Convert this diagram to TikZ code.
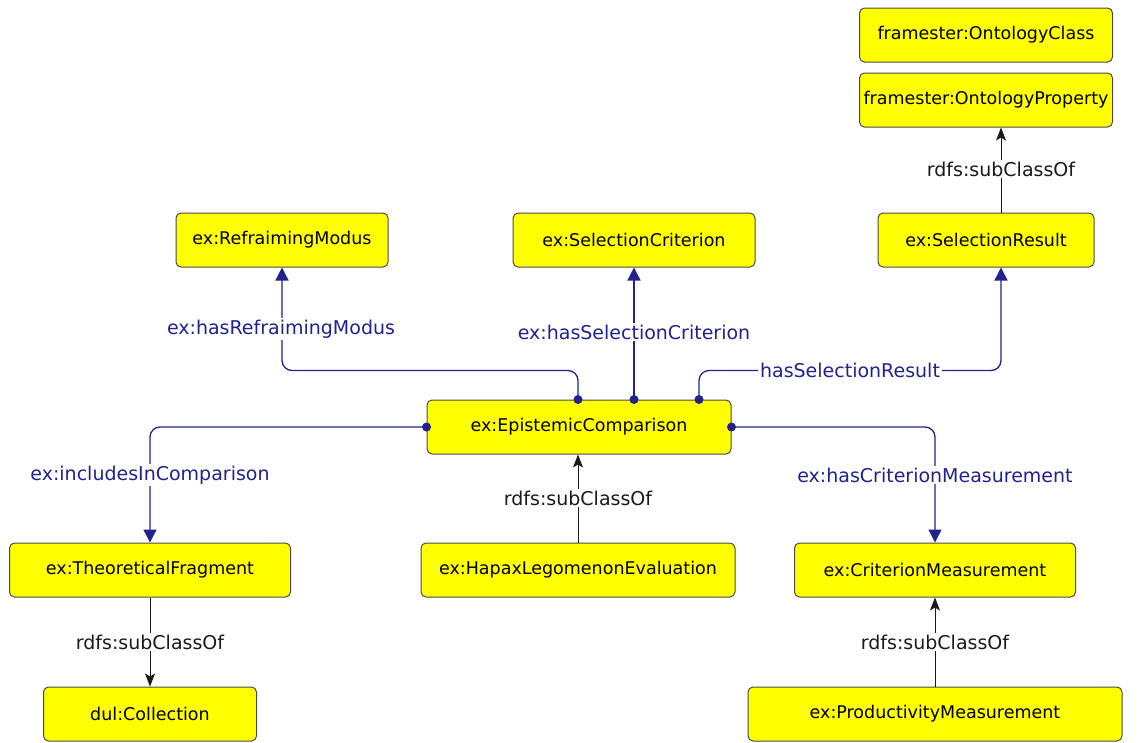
\documentclass[tikz,border=0pt]{standalone}
\usepackage{fontspec}
\setmainfont{DejaVu Sans}
\usetikzlibrary{arrows.meta}
\definecolor{nodeyellow}{HTML}{FFFF00}
\definecolor{edgeblue}{HTML}{22228E}
\definecolor{boxborder}{HTML}{4A4A4A}
\definecolor{labelblack}{HTML}{1A1A1A}

\begin{document}
\begin{tikzpicture}[x=1pt,y=-1pt,
  cls/.style={draw=boxborder, fill=nodeyellow, rounded corners=5pt, line width=1pt,
    minimum height=54pt, inner sep=0pt, text=black, font=\fontsize{17.5}{22}\selectfont},
  objprop/.style={draw=edgeblue, line width=1.3pt, rounded corners=10pt,
    -{Triangle[length=13pt,width=13pt]}},
  subcls/.style={draw=labelblack, line width=0.9pt, -{Stealth[length=13pt,width=10pt,inset=3pt]}},
  proplabel/.style={fill=white, text=edgeblue, inner sep=2pt, font=\fontsize{19}{22}\selectfont},
  sublabel/.style={fill=white, text=labelblack, inner sep=2pt, font=\fontsize{19}{22}\selectfont},
  startdot/.style={fill=edgeblue}
]
\useasboundingbox (0,0) rectangle (1143,742);

% classes
\node[cls, minimum width=253pt] (oc)  at (986,35)  {framester:OntologyClass};
\node[cls, minimum width=253pt] (op)  at (986,100) {framester:OntologyProperty};
\node[cls, minimum width=216pt] (sr)  at (986,240) {ex:SelectionResult};
\node[cls, minimum width=242pt] (sc)  at (634,240) {ex:SelectionCriterion};
\node[cls, minimum width=212pt] (rm)  at (282,240) {ex:RefraimingModus};
\node[cls, minimum width=304pt] (ec)  at (579,427) {ex:EpistemicComparison};
\node[cls, minimum width=281pt] (tf)  at (150,570) {ex:TheoreticalFragment};
\node[cls, minimum width=314pt] (hle) at (578,570) {ex:HapaxLegomenonEvaluation};
\node[cls, minimum width=281pt] (cm)  at (935,570) {ex:CriterionMeasurement};
\node[cls, minimum width=213pt] (col) at (150,714) {dul:Collection};
\node[cls, minimum width=374pt] (pm)  at (935,714) {ex:ProductivityMeasurement};

% object properties
\draw[objprop] ([xshift=-1pt]ec.north) -- ++(0,-29) -| (rm.south);
\draw[objprop] ([xshift=55pt]ec.north) -- (sc.south);
\draw[objprop] ([xshift=120pt]ec.north) -- ++(0,-29) -| ([xshift=15pt]sr.south);
\draw[objprop] (ec.west) -| (tf.north);
\draw[objprop] (ec.east) -| (cm.north);

% start dots of the object properties
\fill[startdot] ([xshift=-1pt]ec.north) circle (4.5pt);
\fill[startdot] ([xshift=55pt]ec.north) circle (4.5pt);
\fill[startdot] ([xshift=120pt]ec.north) circle (4.5pt);
\fill[startdot] (ec.west) circle (4.5pt);
\fill[startdot] (ec.east) circle (4.5pt);

% subclass relations
\draw[subcls] ([xshift=15pt]sr.north) -- ([xshift=15pt]op.south);
\draw[subcls] (hle.north) -- (hle.north |- ec.south);
\draw[subcls] (tf.south) -- (col.north);
\draw[subcls] (pm.north) -- (cm.north |- cm.south);

% labels
\node[proplabel] (lrm)  at (281,329) {ex:hasRefraimingModus};
\node[proplabel] (lsc)  at (634,332) {ex:hasSelectionCriterion};
\node[proplabel] (lsr)  at (850,370) {hasSelectionResult};
\node[proplabel] (ltf)  at (150,475) {ex:includesInComparison};
\node[proplabel] (lcm)  at (935,475) {ex:hasCriterionMeasurement};
\node[sublabel]  (lop)  at (1001,169) {rdfs:subClassOf};
\node[sublabel]  (lec)  at (578,498) {rdfs:subClassOf};
\node[sublabel]  (lcol) at (150,642) {rdfs:subClassOf};
\node[sublabel]  (lcm2) at (935,642) {rdfs:subClassOf};
\end{tikzpicture}
\end{document}
